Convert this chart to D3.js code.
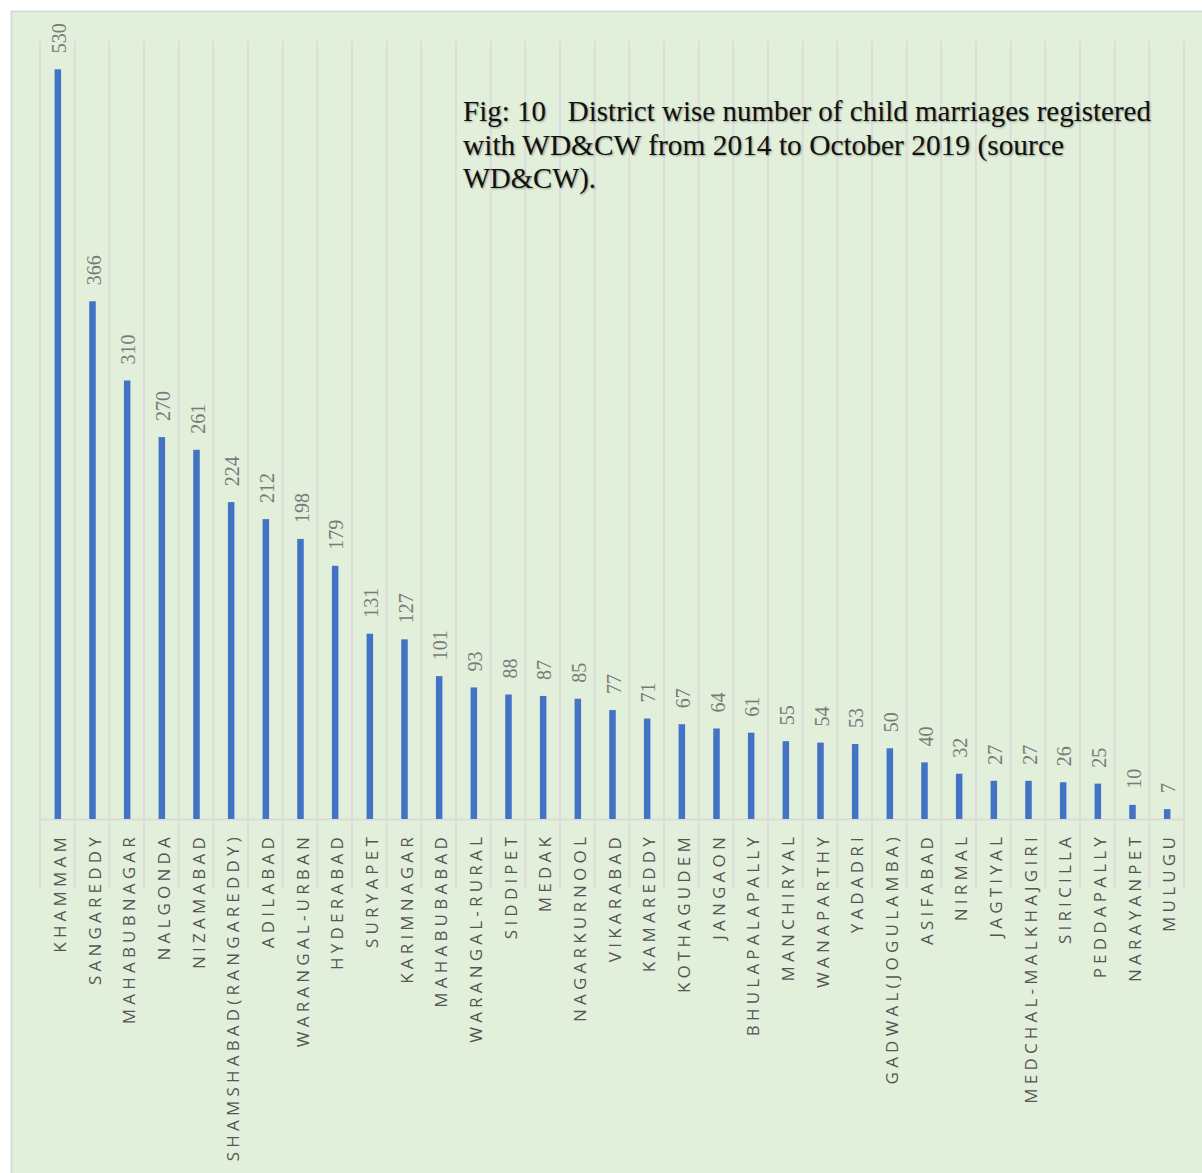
<!DOCTYPE html>
<html>
<head>
<meta charset="utf-8">
<script src="https://cdn.jsdelivr.net/npm/d3@7/dist/d3.min.js"></script>
<style>
  html, body { margin: 0; padding: 0; background: #ffffff; }
  svg { display: block; }
  .title { text-shadow: 1px 1px 2px rgba(0,0,0,0.35); }
</style>
</head>
<body>
<svg id="chart" width="1202" height="1173"></svg>
<script>
// District names, in chart order
const districts = [
  "KHAMMAM", "SANGAREDDY", "MAHABUBNAGAR", "NALGONDA", "NIZAMABAD",
  "SHAMSHABAD(RANGAREDDY)", "ADILABAD", "WARANGAL-URBAN", "HYDERABAD", "SURYAPET",
  "KARIMNAGAR", "MAHABUBABAD", "WARANGAL-RURAL", "SIDDIPET", "MEDAK",
  "NAGARKURNOOL", "VIKARABAD", "KAMAREDDY", "KOTHAGUDEM", "JANGAON",
  "BHULAPALAPALLY", "MANCHIRYAL", "WANAPARTHY", "YADADRI", "GADWAL(JOGULAMBA)",
  "ASIFABAD", "NIRMAL", "JAGTIYAL", "MEDCHAL-MALKHAJGIRI", "SIRICILLA",
  "PEDDAPALLY", "NARAYANPET", "MULUGU"
];

// Child marriages registered with WD&CW, 2014 - Oct 2019
const marriages = [
  530, 366, 310, 270, 261,
  224, 212, 198, 179, 131,
  127, 101, 93, 88, 87,
  85, 77, 71, 67, 64,
  61, 55, 54, 53, 50,
  40, 32, 27, 27, 26,
  25, 10, 7
];

const titleLines = [
  "Fig: 10   District wise number of child marriages registered",
  "with WD&CW from 2014 to October 2019 (source",
  "WD&CW)."
];

const yMax = 550;

const svg = d3.select("#chart");

// chart area background
svg.append("rect")
  .attr("x", 11.5).attr("y", 11.5)
  .attr("width", 1202).attr("height", 1175)
  .attr("fill", "#e2efda")
  .attr("stroke", "#d9d9d9")
  .attr("stroke-width", 2);

const plot = { left: 40, right: 1184, top: 41, bottom: 819 };

const x = d3.scaleBand()
  .domain(districts)
  .range([plot.left, plot.right])
  .paddingInner(0).paddingOuter(0);

const y = d3.scaleLinear()
  .domain([0, yMax])
  .range([plot.bottom, plot.top]);

// category dividers: grid above the axis, long tick marks below it
const bounds = districts.map(d => x(d)).concat([plot.right]);
svg.append("g")
  .selectAll("line")
  .data(bounds)
  .join("line")
  .attr("x1", d => d).attr("x2", d => d)
  .attr("y1", plot.top).attr("y2", plot.bottom + 70)
  .attr("stroke", "#d9d9d9")
  .attr("stroke-width", 1.5);

// category axis
const xAxis = svg.append("g")
  .attr("transform", `translate(0,${plot.bottom})`)
  .call(d3.axisBottom(x).tickSize(0).tickPadding(0));
xAxis.select(".domain")
  .attr("stroke", "#d9d9d9")
  .attr("stroke-width", 2);
xAxis.selectAll(".tick text")
  .attr("font-family", "'Open Sans', sans-serif")
  .attr("font-size", 17)
  .attr("letter-spacing", "4.2px")
  .attr("fill", "#555555")
  .attr("text-anchor", "end")
  .attr("dominant-baseline", "central")
  .attr("transform", "translate(2,14) rotate(-90)")
  .attr("y", 0)
  .attr("dy", null);

// bars
const barW = 6.5;
svg.append("g")
  .selectAll("rect")
  .data(marriages)
  .join("rect")
  .attr("x", (d, i) => x(districts[i]) + x.bandwidth() / 2 - barW / 2 + 0.5)
  .attr("y", d => y(d))
  .attr("width", barW)
  .attr("height", d => y(0) - y(d))
  .attr("fill", "#4472c4");

// value labels
svg.append("g")
  .selectAll("text")
  .data(marriages)
  .join("text")
  .attr("transform", (d, i) =>
    `translate(${x(districts[i]) + x.bandwidth() / 2 + 1.5},${y(d) - 16}) rotate(-90)`)
  .attr("text-anchor", "start")
  .attr("dominant-baseline", "central")
  .attr("font-family", "'Liberation Serif', serif")
  .attr("font-size", 20)
  .attr("fill", "#7a7a7a")
  .text(d => d);

// title
const titleWidths = [688, 601, 133];
svg.append("g")
  .attr("class", "title")
  .selectAll("text")
  .data(titleLines)
  .join("text")
  .attr("x", 463)
  .attr("y", (d, i) => 121 + i * 33.5)
  .attr("font-family", "'Liberation Serif', serif")
  .attr("font-size", 29)
  .attr("fill", "#111111")
  .attr("xml:space", "preserve")
  .style("white-space", "pre")
  .attr("textLength", (d, i) => titleWidths[i])
  .attr("lengthAdjust", "spacingAndGlyphs")
  .text(d => d);
</script>
</body>
</html>
